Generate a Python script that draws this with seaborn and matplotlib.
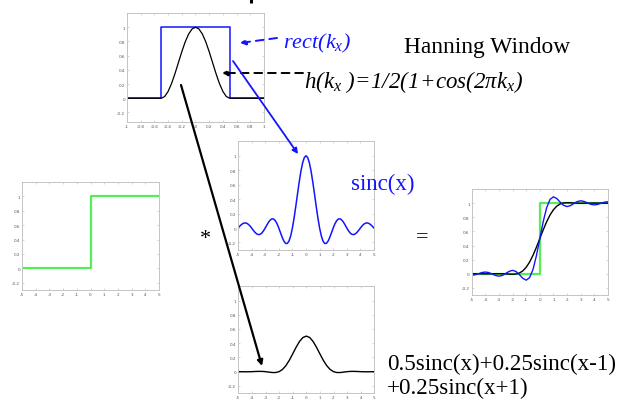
import numpy as np
import matplotlib
matplotlib.use('Agg')
import matplotlib.pyplot as plt
import seaborn as sns
from matplotlib.ticker import FuncFormatter

sns.set_theme(style='white')
plt.rcParams['font.family'] = ['Liberation Serif', 'DejaVu Serif']
plt.rcParams['mathtext.fontset'] = 'custom'
plt.rcParams['mathtext.rm'] = 'Liberation Serif:italic'
plt.rcParams['mathtext.it'] = 'Liberation Serif:italic'

# top window plot (k-space)
kx_rect = [-1, -0.5, -0.5, 0.5, 0.5, 1]
rect_vals = [0, 0, 1, 1, 0, 0]
kx_hann = [-1, -0.5, -0.45, -0.4, -0.35, -0.3, -0.25, -0.2, -0.15, -0.1, -0.05, 0,
           0.05, 0.1, 0.15, 0.2, 0.25, 0.3, 0.35, 0.4, 0.45, 0.5, 1]
hann_vals = [0, 0, 0.0245, 0.0955, 0.2061, 0.3455, 0.5, 0.6545, 0.7939, 0.9045, 0.9755, 1,
             0.9755, 0.9045, 0.7939, 0.6545, 0.5, 0.3455, 0.2061, 0.0955, 0.0245, 0, 0]

# sinc sampled every 0.125 from -5 to 5
x_fine = np.linspace(-5, 5, 81)
sinc_half = [1, 0.9745, 0.9003, 0.7842, 0.6366, 0.4705, 0.3001, 0.1392,
             0, -0.1083, -0.1801, -0.2139, -0.2122, -0.1810, -0.1286, -0.0650,
             0, 0.0573, 0.1000, 0.1238, 0.1273, 0.1120, 0.0818, 0.0424,
             0, -0.0390, -0.0693, -0.0871, -0.0909, -0.0811, -0.0600, -0.0314,
             0, 0.0295, 0.0530, 0.0672, 0.0707, 0.0636, 0.0474, 0.0250, 0]
sinc_vals = sinc_half[::-1] + sinc_half[1:]

# image space, x = -5 .. 5 step 0.25
x = np.linspace(-5, 5, 41)
apod_vals = [0, -0.0011, -0.0018, -0.0015, 0, 0.0024, 0.0040, 0.0036, 0, -0.0063, -0.0121, -0.0123,
             0, 0.0312, 0.0849, 0.1600, 0.25, 0.3430, 0.4244, 0.4801, 0.5,
             0.4801, 0.4244, 0.3430, 0.25, 0.1600, 0.0849, 0.0312, 0, -0.0123, -0.0121, -0.0063,
             0, 0.0036, 0.0040, 0.0024, 0, -0.0015, -0.0018, -0.0011, 0]
step_x = [-5, 0, 0, 5]
step_vals = [0, 0, 1, 1]
gibbs_vals = [-0.0201, -0.0140, 0.0015, 0.0179, 0.0250, 0.0173, -0.0025, -0.0237, -0.0331, -0.0226,
              0.0048, 0.0349, 0.0486, 0.0324, -0.0120, -0.0639, -0.0895, -0.0538, 0.0637, 0.2585, 0.5,
              0.7415, 0.9363, 1.0538, 1.0895, 1.0639, 1.0120, 0.9676, 0.9514, 0.9651, 0.9952, 1.0226,
              1.0331, 1.0237, 1.0025, 0.9827, 0.9750, 0.9821, 0.9985, 1.0140, 1.0201]
smooth_vals = [0.0004, 0.0003, -0.0001, -0.0006, -0.0008, -0.0005, 0.0003, 0.0013, 0.0019, 0.0011,
               -0.0012, -0.0045, -0.0064, -0.0029, 0.0111, 0.0414, 0.0924, 0.1666, 0.2629, 0.3767, 0.5,
               0.6233, 0.7371, 0.8334, 0.9076, 0.9586, 0.9889, 1.0029, 1.0064, 1.0045, 1.0012, 0.9989,
               0.9981, 0.9987, 0.9997, 1.0005, 1.0008, 1.0006, 1.0001, 0.9997, 0.9996]

BLUE = '#1414ff'
GREEN = '#55ee55'

W, H = 624, 402
fig = plt.figure(figsize=(6.24, 4.02), dpi=100)


def panel(left, top, right, bottom):
    ax = fig.add_axes([left / W, 1 - bottom / H, (right - left) / W, (bottom - top) / H])
    for s in ax.spines.values():
        s.set_color('#c4c4c4')
        s.set_linewidth(0.7)
    ax.tick_params(direction='in', length=1.5, width=0.5, color='#c4c4c4',
                   labelsize=3, labelcolor='#555555', pad=1.5,
                   top=True, right=True, bottom=True, left=True)
    ax.xaxis.set_major_formatter(FuncFormatter(lambda v, p: '%g' % round(v, 2)))
    ax.yaxis.set_major_formatter(FuncFormatter(lambda v, p: '%g' % round(v, 2)))
    ax.set_yticks([-0.2, 0, 0.2, 0.4, 0.6, 0.8, 1])
    return ax


def line(ax, xs, ys, color, lw):
    sns.lineplot(x=xs, y=ys, ax=ax, color=color, linewidth=lw, sort=False, estimator=None)


ax1 = panel(127, 14, 264, 122.7)
line(ax1, kx_rect, rect_vals, BLUE, 1.1)
line(ax1, kx_hann, hann_vals, 'black', 0.9)
ax1.set_xlim(-1, 1)
ax1.set_ylim(-0.33, 1.2)
ax1.set_xticks(np.arange(-1, 1.01, 0.2))

ax2 = panel(238, 142.3, 374, 250.7)
line(ax2, x_fine, sinc_vals, BLUE, 1.1)

ax3 = panel(22, 183, 159, 291)
line(ax3, step_x, step_vals, GREEN, 1.6)

ax4 = panel(471.7, 190, 608, 296)
line(ax4, step_x, step_vals, GREEN, 1.6)
line(ax4, x, smooth_vals, 'black', 1.0)
line(ax4, x, gibbs_vals, BLUE, 1.0)

ax5 = panel(238.3, 287.3, 374.3, 394)
line(ax5, x, apod_vals, 'black', 1.0)

for ax in (ax2, ax3, ax4, ax5):
    ax.set_xlim(-5, 5)
    ax.set_ylim(-0.3, 1.2)
    ax.set_xticks(range(-5, 6))
for ax in (ax1, ax2, ax3, ax4, ax5):
    ax.set_xlabel('')
    ax.set_ylabel('')
    for lab in ax.get_xticklabels() + ax.get_yticklabels():
        lab.set_family('DejaVu Sans')

# overlay in pixel coordinates for labels and arrows
ov = fig.add_axes([0, 0, 1, 1], zorder=10)
ov.set_xlim(0, W)
ov.set_ylim(H, 0)
ov.axis('off')
ov.patch.set_alpha(0)

ov.plot([251, 251], [0, 4], color='black', lw=2.2, solid_capstyle='butt')

ov.text(283, 48, r'$rect(k_x)$', color=BLUE, fontsize=16, va='baseline')
ov.text(404, 53, 'Hanning Window', color='black', fontsize=16.8, va='baseline')
ov.text(304, 88, r'$h(k_x\ )\!=\!1/2(1\!+\!cos(2\pi k_x)$', color='black', fontsize=16.5, va='baseline')
ov.text(351, 190, 'sinc(x)', color=BLUE, fontsize=16.5, va='baseline')
ov.text(205, 240, '*', color='black', fontsize=16, ha='center', va='center')
ov.text(422, 238, '=', color='black', fontsize=16, ha='center', va='center')
ov.text(387, 370, '0.5sinc(x)+0.25sinc(x-1)', color='black', fontsize=16.6, va='baseline')
ov.text(387, 394, '+0.25sinc(x+1)', color='black', fontsize=16.6, va='baseline')

ov.annotate('', xy=(240, 44), xytext=(277, 39),
            arrowprops=dict(arrowstyle='-|>', color=BLUE, lw=1.4, linestyle=(0, (4, 3)),
                            mutation_scale=8, shrinkA=0, shrinkB=0))
ov.annotate('', xy=(222, 74), xytext=(303, 74),
            arrowprops=dict(arrowstyle='-|>', color='black', lw=1.4, linestyle=(0, (4, 3)),
                            mutation_scale=8, shrinkA=0, shrinkB=0))
ov.annotate('', xy=(298, 155), xytext=(233, 62),
            arrowprops=dict(arrowstyle='-|>', color=BLUE, lw=1.3,
                            mutation_scale=8, shrinkA=0, shrinkB=0))
ov.annotate('', xy=(262, 367), xytext=(181, 86),
            arrowprops=dict(arrowstyle='-|>', color='black', lw=1.6,
                            mutation_scale=8, shrinkA=0, shrinkB=0))

fig.savefig('out.png', dpi=100)
